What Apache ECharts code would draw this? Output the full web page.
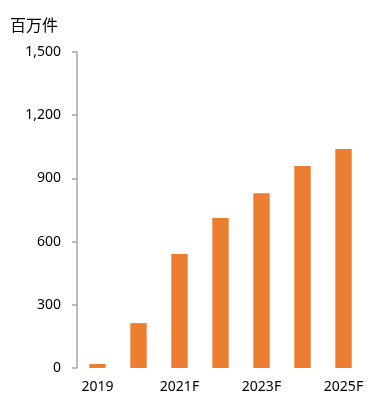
<!DOCTYPE html>
<html>
<head>
<meta charset="utf-8">
<script src="https://cdn.jsdelivr.net/npm/echarts@6/dist/echarts.min.js"></script>
<style>html,body{margin:0;padding:0;background:#fff;}#c{width:390px;height:398px;}</style>
</head>
<body>
<div id="c"></div>
<script>
const categories = ['2019', '2020', '2021F', '2022F', '2023F', '2024F', '2025F'];
const values = [19, 213, 541, 712, 830, 959, 1039];
const unitLabel = '百万件';

const chart = echarts.init(document.getElementById('c'), null, {renderer: 'canvas'});
chart.setOption({
  animation: false,
  backgroundColor: '#ffffff',
  title: {
    text: unitLabel,
    left: 5,
    top: 12,
    textStyle: {fontFamily: 'Noto Sans CJK SC', fontSize: 16, fontWeight: 'normal', color: '#000000'}
  },
  grid: {left: 77, right: 26, top: 52, bottom: 30, containLabel: false},
  xAxis: {
    type: 'category',
    data: categories,
    axisLine: {show: false},
    axisTick: {show: false},
    axisLabel: {
      interval: 1,
      margin: 12,
      fontFamily: 'Noto Sans',
      fontSize: 14,
      color: '#000000'
    }
  },
  yAxis: {
    type: 'value',
    min: 0,
    max: 1500,
    interval: 300,
    axisLine: {show: true, lineStyle: {color: '#a6a6a6', width: 1.5}},
    axisTick: {show: true, length: 5, lineStyle: {color: '#a6a6a6', width: 1.5}},
    splitLine: {show: false},
    axisLabel: {
      margin: 16,
      fontFamily: 'Noto Sans',
      fontSize: 14,
      color: '#000000',
      formatter: v => v.toLocaleString('en-US')
    }
  },
  series: [{
    type: 'bar',
    data: values,
    barWidth: '40%',
    itemStyle: {color: '#ed7d31'}
  }]
});
</script>
</body>
</html>
